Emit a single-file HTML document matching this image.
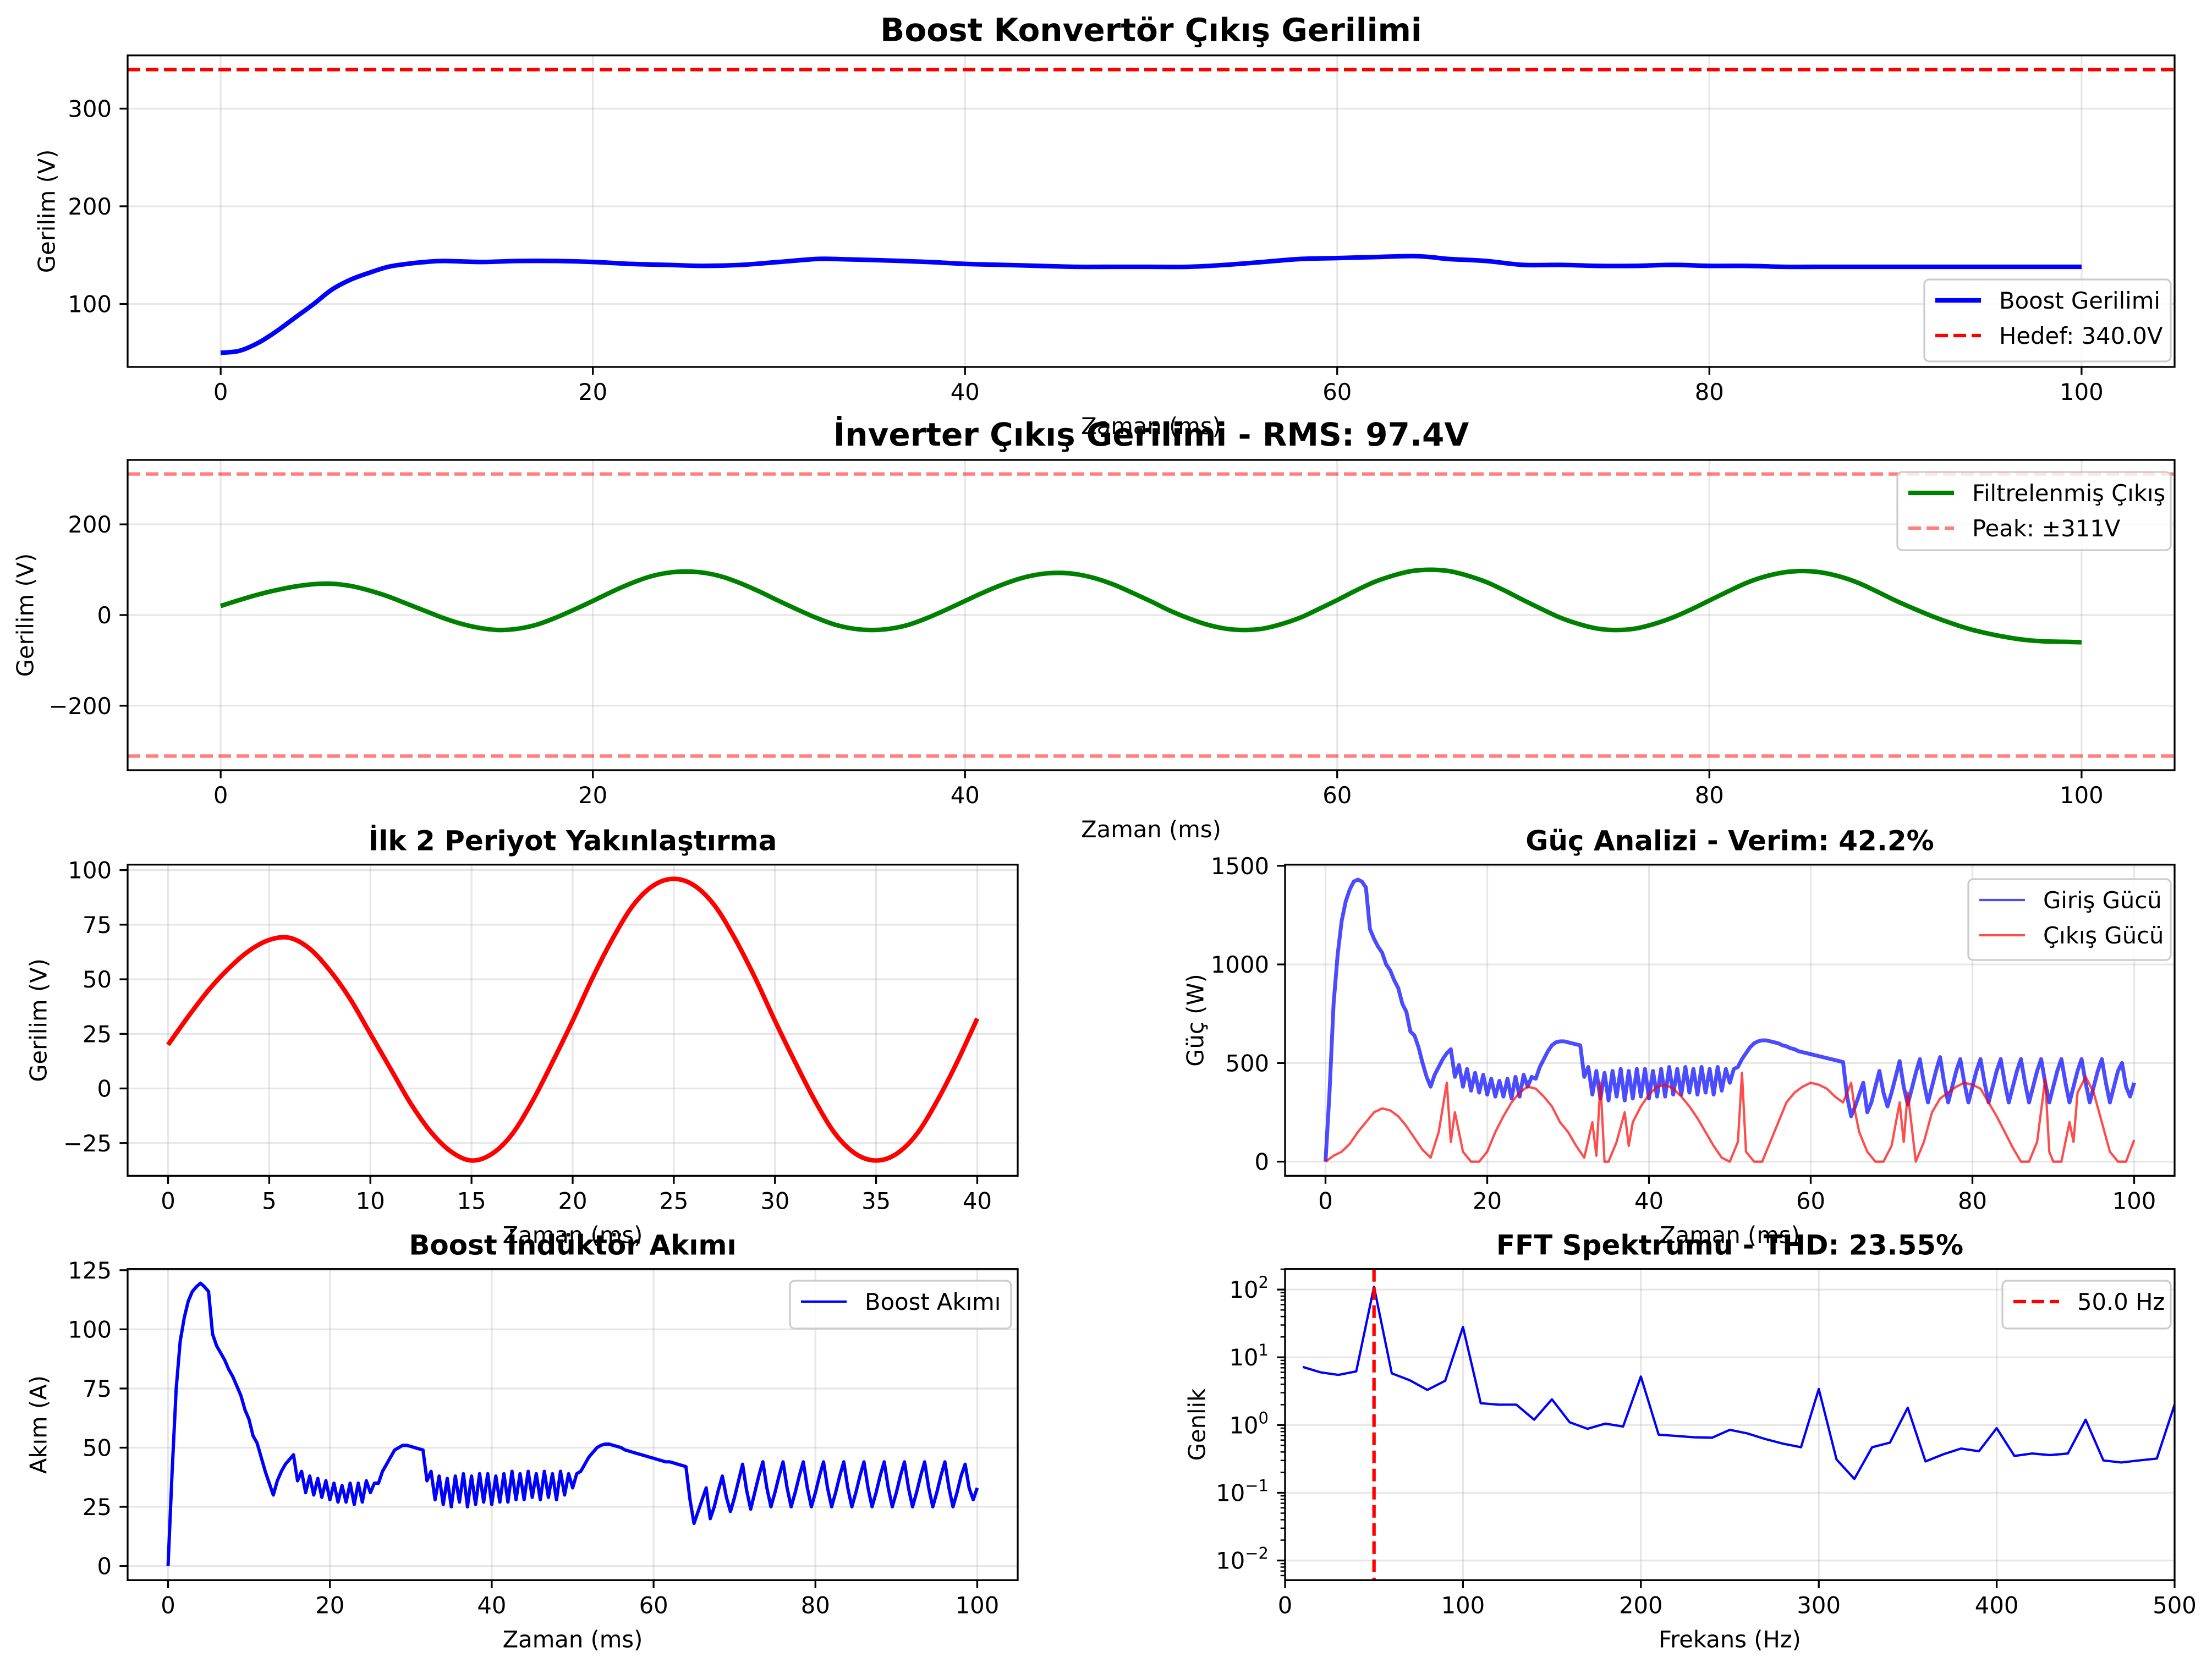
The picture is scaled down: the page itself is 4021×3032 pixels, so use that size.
<!DOCTYPE html>
<html><head><meta charset="utf-8"><title>Boost / Inverter Analysis</title>
<style>
html,body{margin:0;padding:0;background:#fff;}
svg{display:block;font-family:"DejaVu Sans","Liberation Sans",sans-serif;}
</style></head>
<body>
<svg id="fig" xmlns="http://www.w3.org/2000/svg" width="4021" height="3032" viewBox="0 0 4021 3032">
<rect x="0" y="0" width="4021" height="3032" fill="#fff"/>
</svg>
<script>
// ---------- DATA ----------
const boostT = [0,1,2,3,4,5,6,7,8,9,10,11,12,14,16,18,20,22,24,26,28,30,32,33,35,38,40,42,44,46,48,50,52,54,56,58,60,62,64,65,66,68,70,72,74,76,78,80,82,84,86,88,90,92,94,96,98,100];
const boostV = [50,52,60,72,86,100,115,125,132,138,141,143,144,143,144,144,143,141,140,139,140,143,146,146,145,143,141,140,139,138,138,138,138,140,143,146,147,148,149,148,146,144,140,140,139,139,140,139,139,138,138,138,138,138,138,138,138,138];
const boostTarget = [340];

const invV = [20,33,45,55,63,68,69,64,54,41,25,9,-7,-20,-29,-33,-30,-21,-6,12,31,51,69,84,93,96,93,84,69,51,31,12,-6,-21,-30,-33,
-30,-21,-6,12,31,50,67,81,90,93,90,81,67,49,30,10,-7,-21,-30,-33,
-30,-20,-6,13,33,54,73,87,97,100,97,87,73,54,33,13,-6,-20,-30,-33,
-30,-20,-6,12,32,52,71,85,94,97,94,85,71,52,32,14,-3,-18,-31,-41,-49,-55,-58,-59,-60];
const invPeak = [311,-311];

const zoomV = [20,33,45,55,63,68,69,64,54,41,25,9,-7,-20,-29,-33,-30,-21,-6,12,31,51,69,84,93,96,93,84,69,51,31,12,-6,-21,-30,-33,-30,-21,-6,12,32];

const pinV = [0,350,800,1050,1220,1320,1380,1420,1430,1420,
1390,1180,1130,1090,1060,1000,970,920,880,800,
760,660,640,580,500,430,380,440,480,520,
550,570,430,490,380,470,360,450,350,440,
340,420,330,410,330,420,320,430,330,440,
380,430,420,480,520,560,590,605,610,610,
605,600,595,590,430,480,340,460,320,450,
310,460,330,470,310,460,320,470,330,470,
320,460,330,470,330,480,340,470,340,480,
350,470,340,480,350,470,340,480,360,470,
400,470,480,520,550,580,600,610,615,615,
610,605,600,590,585,575,570,560,555,550,
545,540,535,530,525,520,515,510,505,330,
230,280,340,400,250,300,380,460,350,280,
350,430,510,380,290,370,450,520,400,300,
380,460,530,400,300,380,460,520,400,300,
380,460,520,400,300,380,460,520,400,300,
380,460,520,400,300,380,460,520,400,300,
380,460,520,400,300,380,460,520,400,300,
380,460,520,400,300,380,460,500,380,330,
400];
const poutT = [0,1,2,3,4,5,6,7,8,9,10,11,12,13,14,15,15.5,16,17,18,19,20,21,22,23,24,25,26,27,28,29,30,31,32,33,33.5,34,34.5,35,36,37,37.5,38,39,40,41,42,43,44,45,46,47,48,49,50,51,51.5,52,53,54,55,56,57,58,59,60,61,62,63,64,65,65.5,66,67,68,69,70,71,71.5,72,73,74,75,76,77,78,79,80,81,82,83,84,85,86,87,88,89,89.5,90,91,92,92.5,93,94,95,96,97,98,99,100];
const poutV = [0,30,50,90,150,200,250,270,260,230,180,120,60,20,150,400,100,250,50,0,0,50,150,230,300,350,380,370,330,280,200,150,80,20,200,30,400,0,0,100,250,80,200,280,340,380,390,370,330,280,220,150,80,20,0,100,450,50,0,0,100,200,300,350,380,400,390,370,330,300,400,250,150,50,0,0,80,300,100,350,0,100,250,320,350,380,400,390,370,300,230,150,70,0,0,100,420,50,0,0,200,100,350,430,350,200,50,0,0,110];

const curV = [0,40,75,95,105,112,116,118,119.5,118,
116,98,93,90,87,83,80,76,72,66,
62,55,52,46,40,35,30,36,40,43,
45,47,36,40,31,38,30,37,29,36,
28,35,27,34,27,35,26,35,27,36,
31,35,35,40,43,46,49,50,51,51,
50.5,50,49.5,49,36,40,28,38,26,37,
25,38,27,39,25,38,26,39,27,39,
26,38,27,39,27,40,28,39,28,40,
29,39,28,40,29,39,28,40,30,39,
33,39,40,43,46,48,50,51,51.5,51.5,
51,50.5,50,49,48.5,48,47.5,47,46.5,46,
45.5,45,44.5,44,44,43.5,43,42.5,42,28,
18,23,28,33,20,25,32,38,29,23,
29,36,43,32,24,31,38,44,33,25,
31,38,44,33,25,31,38,44,33,25,
31,38,44,33,25,31,38,44,33,25,
31,38,44,33,25,31,38,44,33,25,
31,38,44,33,25,31,38,44,33,25,
31,38,44,33,25,31,38,43,33,28,
33];

const fftF = [10,20,30,40,50,60,70,80,90,100,110,120,130,140,150,160,170,180,190,200,210,220,230,240,250,260,270,280,290,300,310,320,330,340,350,360,370,380,390,400,410,420,430,440,450,460,470,480,490,500];
const fftA = [7.2,6,5.5,6.2,110,5.8,4.6,3.3,4.5,28,2.1,2,2,1.2,2.4,1.1,0.88,1.05,0.95,5.2,0.72,0.69,0.66,0.65,0.85,0.75,0.62,0.53,0.47,3.4,0.31,0.16,0.47,0.55,1.8,0.29,0.37,0.45,0.41,0.9,0.35,0.38,0.36,0.38,1.2,0.3,0.28,0.3,0.32,2.0];
const fundamental = [50];

const timeTicks100 = [0,20,40,60,80,100];
const timeTicks40 = [0,5,10,15,20,25,30,35,40];
const boostYTicks = [100,200,300];
const invYTicks = [-200,0,200];
const zoomYTicks = [-25,0,25,50,75,100];
const powYTicks = [0,500,1000,1500];
const curYTicks = [0,25,50,75,100,125];
const freqTicks = [0,100,200,300,400,500];
const logExps = [-2,-1,0,1,2];

// ---------- RENDER ----------
const NS = "http://www.w3.org/2000/svg";
const svg = document.getElementById("fig");
const FS = 41.7, SP = 3.3, TL = 14.6;
function mk(tag, attrs, parent) {
  const e = document.createElementNS(NS, tag);
  for (const k in attrs) e.setAttribute(k, attrs[k]);
  (parent || svg).appendChild(e);
  return e;
}
function txt(str, attrs, parent) { const e = mk("text", attrs, parent); e.textContent = str; return e; }

let clipId = 0;
function makeAxes(p) {
  const g = mk("g", {});
  
  
  p.g = g;
  p.sx = v => p.l + (v - p.x0) / (p.x1 - p.x0) * (p.r - p.l);
  if (p.log) p.sy = v => p.b - (Math.log10(v) - p.y0) / (p.y1 - p.y0) * (p.b - p.t);
  else p.sy = v => p.b - (v - p.y0) / (p.y1 - p.y0) * (p.b - p.t);
  const grid = mk("g", {stroke: "#b0b0b0", "stroke-opacity": 0.3, "stroke-width": SP}, g);
  
  
  p.xticks.forEach(v => { const x = p.sx(v); mk("line", {x1: x, x2: x, y1: p.t, y2: p.b}, grid); });
  p.yvals.forEach(v => { const y = p.sy(v); mk("line", {x1: p.l, x2: p.r, y1: y, y2: y}, grid); });
  const id = "clip" + (clipId++);
  const cp = mk("clipPath", {id: id}, g);
  mk("rect", {x: p.l, y: p.t, width: p.r - p.l, height: p.b - p.t}, cp);
  p.data = mk("g", {"clip-path": "url(#" + id + ")"}, g);
  
  
  return p;
}
function finishAxes(p) {
  const g = p.g;
  const sp = mk("rect", {x: p.l, y: p.t, width: p.r - p.l, height: p.b - p.t, fill: "none", stroke: "#000", "stroke-width": SP}, g);
  
  
  const xt = mk("g", {}, g);
  
  
  p.xticks.forEach(v => {
    const x = p.sx(v);
    mk("line", {x1: x, x2: x, y1: p.b, y2: p.b + TL, stroke: "#000", "stroke-width": SP}, xt);
    const t = txt(String(v), {x: x, y: p.b + 60, "font-size": FS, "text-anchor": "middle", fill: "#000"}, xt);
    
    
  });
  const yt = mk("g", {}, g);
  
  
  p.yvals.forEach((v, i) => {
    const y = p.sy(v);
    mk("line", {x1: p.l - TL, x2: p.l, y1: y, y2: y, stroke: "#000", "stroke-width": SP}, yt);
    let t;
    if (p.log) {
      t = txt("", {x: p.l - 30, y: y + 15, "font-size": FS, "text-anchor": "end", fill: "#000"}, yt);
      const a = mk("tspan", {}, t); a.textContent = "10";
      const b = mk("tspan", {dy: -18, "font-size": 29}, t); b.textContent = p.ylabels[i];
    } else {
      t = txt(p.ylabels[i], {x: p.l - 29, y: y + 15, "font-size": FS, "text-anchor": "end", fill: "#000"}, yt);
    }
    
    
  });
  if (p.log) {
    for (let e = -3; e <= 2; e++) for (let m = 2; m <= 9; m++) {
      const v = m * Math.pow(10, e);
      const lv = Math.log10(v);
      if (lv < p.y0 || lv > p.y1) continue;
      const y = p.sy(v);
      mk("line", {x1: p.l - 8.3, x2: p.l, y1: y, y2: y, stroke: "#000", "stroke-width": 2.5}, yt);
    }
  }
  const title = txt(p.title, {x: (p.l + p.r) / 2, y: p.t - 26, "font-size": p.tfs, "font-weight": "bold", "text-anchor": "middle", fill: "#000"}, g);
  
  
  const xl = txt(p.xlabel, {x: (p.l + p.r) / 2, y: p.b + 122, "font-size": FS, "text-anchor": "middle", fill: "#000"}, g);
  
  
  const cy = (p.t + p.b) / 2;
  const yl = txt(p.ylabel, {x: p.ylx, y: cy, "font-size": FS, "text-anchor": "middle", "dominant-baseline": "central", fill: "#000", transform: "rotate(-90 " + p.ylx + " " + cy + ")"}, g);
  
  
}
function line(p, xs, ys, attrs, name) {
  const pts = xs.map((x, i) => p.sx(x).toFixed(1) + "," + p.sy(ys[i]).toFixed(1)).join(" ");
  const a = Object.assign({points: pts, fill: "none", "stroke-linejoin": "round", "stroke-linecap": "butt"}, attrs);
  const e = mk("polyline", a, p.data);
  
  
  return e;
}
function smoothLine(p, xs, ys, attrs, name) {
  const P = xs.map((x, i) => [p.sx(x), p.sy(ys[i])]);
  let d = "M" + P[0][0].toFixed(1) + "," + P[0][1].toFixed(1);
  for (let i = 0; i < P.length - 1; i++) {
    const p0 = P[Math.max(0, i - 1)], p1 = P[i], p2 = P[i + 1], p3 = P[Math.min(P.length - 1, i + 2)];
    const c1x = p1[0] + (p2[0] - p0[0]) / 6, c1y = p1[1] + (p2[1] - p0[1]) / 6;
    const c2x = p2[0] - (p3[0] - p1[0]) / 6, c2y = p2[1] - (p3[1] - p1[1]) / 6;
    d += " C" + c1x.toFixed(1) + "," + c1y.toFixed(1) + " " + c2x.toFixed(1) + "," + c2y.toFixed(1) + " " + p2[0].toFixed(1) + "," + p2[1].toFixed(1);
  }
  const e = mk("path", Object.assign({d: d, fill: "none", "stroke-linejoin": "round"}, attrs), p.data);
  
  
  return e;
}
function hline(p, v, attrs, name) {
  const y = p.sy(v);
  const e = mk("line", Object.assign({x1: p.l, x2: p.r, y1: y, y2: y}, attrs), p.data);
  
  
}
function vline(p, v, attrs, name) {
  const x = p.sx(v);
  const e = mk("line", Object.assign({x1: x, x2: x, y1: p.t, y2: p.b}, attrs), p.data);
  
  
}
function legend(p, x, y, w, h, entries) {
  const g = mk("g", {}, p.g);
  
  
  mk("rect", {x: x, y: y, width: w, height: h, rx: 9, fill: "#fff", "fill-opacity": 0.8, stroke: "#cccccc", "stroke-width": 3.3}, g);
  entries.forEach((en, i) => {
    const cy = y + 38 + i * 64;
    const eg = mk("g", {}, g);
    
    
    const la = {x1: x + 20, x2: x + 103, y1: cy, y2: cy, stroke: en.color, "stroke-width": en.w, "stroke-opacity": en.op || 1};
    if (en.dash) la["stroke-dasharray"] = en.dash;
    mk("line", la, eg);
    txt(en.label, {x: x + 136, y: cy + 15, "font-size": FS, fill: "#000"}, eg);
  });
}

// ----- Plot 1 -----
const p1 = makeAxes({name: "boost-voltage-chart", l: 232, r: 3953, t: 100.7, b: 667, x0: -5, x1: 105, y0: 35.5, y1: 354.5, tfs: 58,
  xticks: timeTicks100, yvals: boostYTicks, ylabels: boostYTicks.map(String),
  title: "Boost Konvertör Çıkış Gerilimi", xlabel: "Zaman (ms)", ylabel: "Gerilim (V)", ylx: 85});
hline(p1, boostTarget[0], {stroke: "#ff0000", "stroke-width": 6.25, "stroke-dasharray": "23 10"}, "target-voltage-line");
smoothLine(p1, boostT, boostV, {stroke: "#0000ff", "stroke-width": 8.3}, "boost-voltage-line");
finishAxes(p1);
legend(p1, 3498, 508, 448, 149, [
  {color: "#0000ff", w: 8.3, label: "Boost Gerilimi"},
  {color: "#ff0000", w: 6.25, dash: "23 10", label: "Hedef: 340.0V"}]);

// ----- Plot 2 -----
const invT = invV.map((_, i) => i);
const p2 = makeAxes({name: "inverter-voltage-chart", l: 232, r: 3953, t: 836, b: 1400, x0: -5, x1: 105, y0: -342.1, y1: 342.1, tfs: 58,
  xticks: timeTicks100, yvals: invYTicks, ylabels: ["−200", "0", "200"],
  title: "İnverter Çıkış Gerilimi - RMS: 97.4V", xlabel: "Zaman (ms)", ylabel: "Gerilim (V)", ylx: 46});
hline(p2, invPeak[0], {stroke: "#ff0000", "stroke-opacity": 0.5, "stroke-width": 6.25, "stroke-dasharray": "23 10"}, "peak-positive-line");
hline(p2, invPeak[1], {stroke: "#ff0000", "stroke-opacity": 0.5, "stroke-width": 6.25, "stroke-dasharray": "23 10"}, "peak-negative-line");
smoothLine(p2, invT, invV, {stroke: "#008000", "stroke-width": 8.3}, "filtered-output-line");
finishAxes(p2);
legend(p2, 3449, 858, 497, 142, [
  {color: "#008000", w: 8.3, label: "Filtrelenmiş Çıkış"},
  {color: "#ff0000", w: 6.25, op: 0.5, dash: "23 10", label: "Peak: ±311V"}]);

// ----- Plot 3 -----
const zoomT = zoomV.map((_, i) => i);
const p3 = makeAxes({name: "zoom-two-periods-chart", l: 232, r: 1850, t: 1571.7, b: 2137.3, x0: -2, x1: 42, y0: -40, y1: 102.5, tfs: 50,
  xticks: timeTicks40, yvals: zoomYTicks, ylabels: ["−25", "0", "25", "50", "75", "100"],
  title: "İlk 2 Periyot Yakınlaştırma", xlabel: "Zaman (ms)", ylabel: "Gerilim (V)", ylx: 70});
smoothLine(p3, zoomT, zoomV, {stroke: "#ff0000", "stroke-width": 8.3}, "zoom-voltage-line");
finishAxes(p3);

// ----- Plot 4 -----
const pinT = pinV.map((_, i) => i * 0.5);
const p4 = makeAxes({name: "power-analysis-chart", l: 2336, r: 3953, t: 1571.7, b: 2137.3, x0: -5, x1: 105, y0: -71.8, y1: 1506, tfs: 50,
  xticks: timeTicks100, yvals: powYTicks, ylabels: powYTicks.map(String),
  title: "Güç Analizi - Verim: 42.2%", xlabel: "Zaman (ms)", ylabel: "Güç (W)", ylx: 2173});
line(p4, pinT, pinV, {stroke: "#0000ff", "stroke-opacity": 0.7, "stroke-width": 7}, "input-power-line");
line(p4, poutT, poutV, {stroke: "#ff0000", "stroke-opacity": 0.7, "stroke-width": 4.2}, "output-power-line");
finishAxes(p4);
legend(p4, 3578, 1598, 368, 147, [
  {color: "#0000ff", w: 4.2, op: 0.7, label: "Giriş Gücü"},
  {color: "#ff0000", w: 4.2, op: 0.7, label: "Çıkış Gücü"}]);

// ----- Plot 5 -----
const curT = curV.map((_, i) => i * 0.5);
const p5 = makeAxes({name: "inductor-current-chart", l: 232, r: 1850, t: 2306.7, b: 2872.3, x0: -5, x1: 105, y0: -5.98, y1: 125.5, tfs: 50,
  xticks: timeTicks100, yvals: curYTicks, ylabels: curYTicks.map(String),
  title: "Boost İndüktör Akımı", xlabel: "Zaman (ms)", ylabel: "Akım (A)", ylx: 70});
line(p5, curT, curV, {stroke: "#0000ff", "stroke-width": 6}, "boost-current-line");
finishAxes(p5);
legend(p5, 1436, 2328, 402, 87, [
  {color: "#0000ff", w: 4.2, label: "Boost Akımı"}]);

// ----- Plot 6 -----
const p6 = makeAxes({name: "fft-spectrum-chart", l: 2336, r: 3953, t: 2306.7, b: 2872.3, x0: 0, x1: 500, y0: -2.29, y1: 2.304, log: true, tfs: 50,
  xticks: freqTicks, yvals: logExps.map(e => Math.pow(10, e)), ylabels: ["−2", "−1", "0", "1", "2"],
  title: "FFT Spektrumu - THD: 23.55%", xlabel: "Frekans (Hz)", ylabel: "Genlik", ylx: 2176});
line(p6, fftF, fftA, {stroke: "#0000ff", "stroke-width": 4.2}, "fft-amplitude-line");
vline(p6, fundamental[0], {stroke: "#ff0000", "stroke-width": 6.25, "stroke-dasharray": "23 10"}, "fundamental-frequency-line");
finishAxes(p6);
legend(p6, 3640, 2328, 306, 87, [
  {color: "#ff0000", w: 6.25, dash: "23 10", label: "50.0 Hz"}]);
</script>
</body></html>
